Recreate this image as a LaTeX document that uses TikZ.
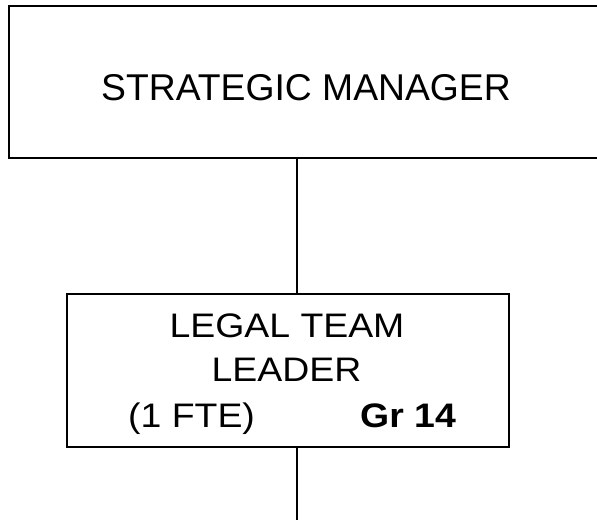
\documentclass[tikz,border=0pt]{standalone}
\usepackage{fontspec}
\setmainfont{Liberation Sans}
\begin{document}
\begin{tikzpicture}[x=1pt,y=-1pt,
  box/.style={draw=black, line width=1.6pt, rectangle, inner sep=0pt},
  conn/.style={draw=black, line width=1.5pt},
  bigtxt/.style={font=\fontsize{37.3}{44}\selectfont, inner sep=0pt, anchor=base},
  txt/.style={font=\fontsize{34}{44}\selectfont, inner sep=0pt, anchor=base}]
\useasboundingbox (0,0) rectangle (597,520);
\node[box, minimum width=598pt, minimum height=152pt, anchor=north west] (sm) at (8,5) {};
\node[bigtxt] (smtext) at (306,100) {STRATEGIC MANAGER};
\node[box, minimum width=442pt, minimum height=153pt, anchor=north west] (lt) at (66,293) {};
\node[txt] (l1) at (287,337.7) {\scalebox{1.1}[1]{LEGAL TEAM}};
\node[txt] (l2) at (286.5,381.7) {\scalebox{1.1}[1]{LEADER}};
\node[txt, anchor=base west] (l3) at (128,427) {\scalebox{1.1}[1]{(1 FTE)}};
\node[txt, anchor=base west] (l4) at (360,427) {\scalebox{1.1}[1]{\bfseries Gr 14}};
\coordinate (lx) at (297,0);
\coordinate (end) at (297,520);
\draw[conn] (sm.south -| lx) -- (lt.north -| lx);
\draw[conn] (lt.south -| lx) -- (end);
\end{tikzpicture}
\end{document}
